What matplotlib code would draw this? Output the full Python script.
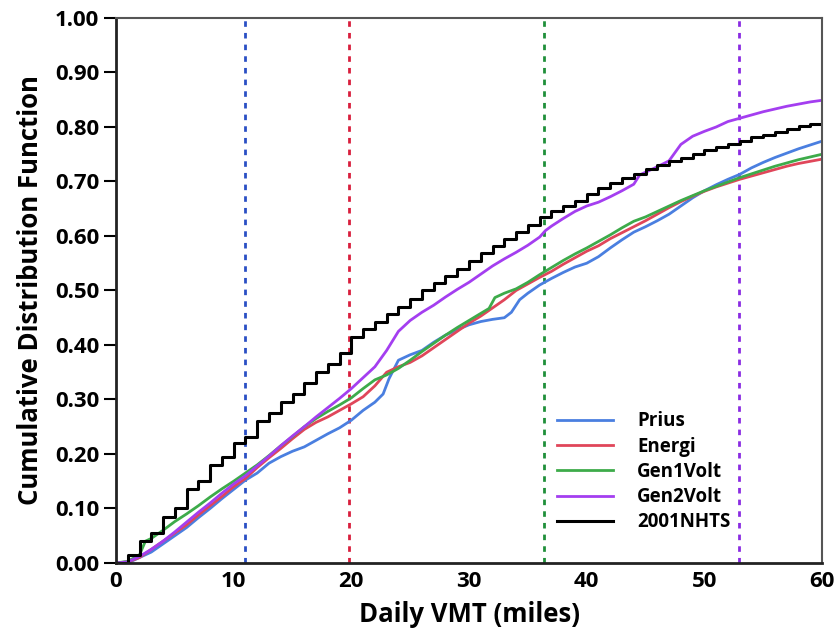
import matplotlib
matplotlib.use("Agg")
import matplotlib.pyplot as plt
from matplotlib.ticker import FormatStrFormatter

plt.rcParams['font.family'] = ['Open Sans', 'DejaVu Sans']
plt.rcParams['font.weight'] = 'bold'

# 2001 NHTS (step at each mile)
nhts_x = list(range(0, 61))
nhts_y = [0.000, 0.015, 0.040, 0.055, 0.085, 0.100, 0.135, 0.150, 0.180, 0.195,
          0.220, 0.232, 0.260, 0.275, 0.295, 0.310, 0.330, 0.350, 0.365, 0.385,
          0.415, 0.430, 0.442, 0.457, 0.470, 0.485, 0.500, 0.513, 0.527, 0.540,
          0.555, 0.568, 0.582, 0.595, 0.608, 0.620, 0.635, 0.645, 0.655, 0.665,
          0.677, 0.688, 0.697, 0.706, 0.714, 0.722, 0.730, 0.737, 0.744, 0.751,
          0.757, 0.763, 0.769, 0.775, 0.781, 0.786, 0.791, 0.796, 0.801, 0.806,
          0.811]

prius_x = [0, 1, 2, 3, 4, 5, 6, 7, 8, 9, 10, 11, 12, 13, 14, 15, 16, 17, 18, 19,
           20, 21, 22, 22.7, 23.2, 24, 25, 26, 27, 28, 29, 30, 31, 32, 33, 33.6,
           34.3, 35, 36, 37, 38, 39, 40, 41, 42, 43, 44, 45, 46, 47, 48, 49, 50,
           51, 52, 53, 54, 55, 56, 57, 58, 59, 60]
prius_y = [0, 0, 0.01, 0.02, 0.035, 0.05, 0.065, 0.083, 0.1, 0.118, 0.135, 0.152,
           0.165, 0.183, 0.195, 0.205, 0.213, 0.225, 0.237, 0.248, 0.262, 0.28,
           0.295, 0.31, 0.338, 0.372, 0.382, 0.39, 0.405, 0.418, 0.428, 0.437,
           0.443, 0.447, 0.45, 0.46, 0.483, 0.495, 0.51, 0.522, 0.533, 0.543,
           0.55, 0.562, 0.578, 0.593, 0.607, 0.617, 0.628, 0.64, 0.655, 0.67,
           0.683, 0.694, 0.704, 0.713, 0.725, 0.735, 0.744, 0.752, 0.76, 0.767,
           0.774]

energi_x = list(range(0, 61))
energi_y = [0, 0.002, 0.01, 0.025, 0.04, 0.055, 0.07, 0.088, 0.105, 0.122, 0.14,
            0.155, 0.175, 0.193, 0.21, 0.228, 0.245, 0.258, 0.268, 0.28, 0.292,
            0.305, 0.325, 0.35, 0.36, 0.368, 0.38, 0.395, 0.41, 0.425, 0.44,
            0.453, 0.468, 0.483, 0.5, 0.512, 0.524, 0.535, 0.548, 0.56, 0.572,
            0.582, 0.595, 0.606, 0.617, 0.628, 0.64, 0.652, 0.663, 0.673, 0.682,
            0.69, 0.697, 0.704, 0.71, 0.716, 0.722, 0.728, 0.733, 0.737, 0.741]

gen1_x = [0, 1, 2, 2.5, 3, 4, 5, 6, 7, 8, 9, 10, 11, 12, 13, 14, 15, 16, 17, 18,
          19, 20, 21, 22, 23, 24, 25, 26, 27, 28, 29, 30, 31, 31.7, 32.2, 33, 34,
          35, 36, 37, 38, 39, 40, 41, 42, 43, 44, 45, 46, 47, 48, 49, 50, 51, 52,
          53, 54, 55, 56, 57, 58, 59, 60]
gen1_y = [0, 0.003, 0.015, 0.04, 0.045, 0.06, 0.076, 0.09, 0.105, 0.121, 0.136,
          0.15, 0.165, 0.18, 0.197, 0.215, 0.232, 0.25, 0.265, 0.278, 0.29, 0.303,
          0.32, 0.336, 0.345, 0.357, 0.372, 0.388, 0.403, 0.418, 0.432, 0.445,
          0.458, 0.467, 0.487, 0.495, 0.503, 0.515, 0.529, 0.542, 0.555, 0.567,
          0.578, 0.59, 0.602, 0.615, 0.627, 0.635, 0.645, 0.655, 0.665, 0.674,
          0.683, 0.691, 0.699, 0.707, 0.714, 0.721, 0.728, 0.734, 0.74, 0.745,
          0.75]

gen2_x = [0, 1, 2, 3, 4, 5, 6, 7, 8, 9, 10, 11, 12, 13, 14, 15, 16, 17, 18, 19,
          20, 21, 22, 23, 24, 25, 26, 27, 28, 29, 30, 31, 32, 33, 34, 35, 36,
          36.5, 37, 38, 39, 40, 41, 42, 43, 44, 44.5, 45, 46, 47, 48, 49, 50, 51,
          52, 53, 54, 55, 56, 57, 58, 59, 60]
gen2_y = [0, 0.002, 0.012, 0.025, 0.04, 0.057, 0.075, 0.093, 0.11, 0.128, 0.145,
          0.16, 0.178, 0.196, 0.215, 0.233, 0.25, 0.268, 0.285, 0.302, 0.32, 0.34,
          0.36, 0.39, 0.425, 0.445, 0.46, 0.473, 0.488, 0.502, 0.515, 0.53, 0.545,
          0.558, 0.57, 0.583, 0.598, 0.61, 0.618, 0.632, 0.645, 0.655, 0.662,
          0.672, 0.683, 0.695, 0.712, 0.717, 0.727, 0.738, 0.768, 0.783, 0.792,
          0.80, 0.81, 0.816, 0.822, 0.828, 0.833, 0.838, 0.842, 0.846, 0.849]

# dotted vertical markers
vline_x = [11.0, 19.8, 36.4, 52.9]
vline_colors = ['#2a4fc4', '#d81e3c', '#1f8f3a', '#8a2be2']

fig = plt.figure(figsize=(8.38, 6.38), dpi=100)
ax = fig.add_axes([0.1384, 0.1176, 0.8426, 0.8542])

for xv, c in zip(vline_x, vline_colors):
    ax.axvline(xv, color=c, lw=2, linestyle=(0, (2, 2.2)), zorder=1)

ax.plot(prius_x, prius_y, color='#4a7fe0', lw=2, label='Prius')
ax.plot(energi_x, energi_y, color='#e0465a', lw=2, label='Energi')
ax.plot(gen1_x, gen1_y, color='#3dab4a', lw=2, label='Gen1Volt')
ax.plot(gen2_x, gen2_y, color='#a43ef0', lw=2, label='Gen2Volt')
ax.plot(nhts_x, nhts_y, color='black', lw=2.2, drawstyle='steps-post', label='2001NHTS')

ax.set_xlim(0, 60)
ax.set_ylim(0, 1)
ax.set_xticks([0, 10, 20, 30, 40, 50, 60])
ax.set_yticks([i / 10 for i in range(11)])
ax.yaxis.set_major_formatter(FormatStrFormatter('%.2f'))
ax.tick_params(axis='x', length=0, pad=6, labelsize=16)
ax.tick_params(axis='y', length=9, width=1.5, pad=3, labelsize=16)

for s in ['left', 'bottom']:
    ax.spines[s].set_linewidth(2)
    ax.spines[s].set_color('#222222')
for s in ['top', 'right']:
    ax.spines[s].set_linewidth(1.5)
    ax.spines[s].set_color('#555555')

ax.set_xlabel('Daily VMT (miles)', fontsize=18.5, fontweight='bold', labelpad=6)
ax.set_ylabel('Cumulative Distribution Function', fontsize=18.5, fontweight='bold', labelpad=8)

ax.legend(loc='lower left', bbox_to_anchor=(0.6, 0.025), frameon=False,
          handlelength=3.0, handletextpad=1.3, labelspacing=0.28,
          prop={'weight': 'bold', 'size': 13.5})

fig.savefig('out.png', dpi=100)
